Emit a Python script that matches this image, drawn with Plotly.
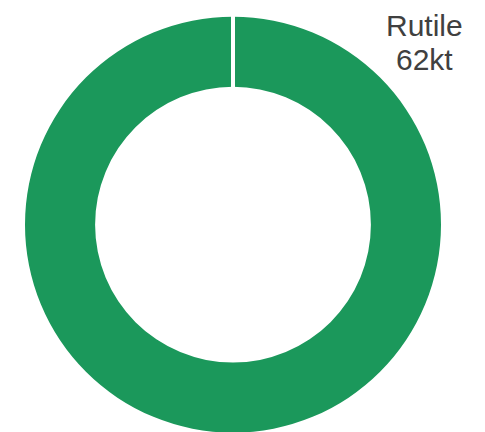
import plotly.graph_objects as go

# Data
categories = ["Rutile"]
values = [62]
unit = "kt"

W, H = 485, 432
OFF = 8  # page body margin in the browser
GREEN = "#1B985B"
TEXT = "#404040"

dom_x = [(25 - OFF) / W, (441 - OFF) / W]
dom_y = [(H - (432.7 - OFF)) / H, (H - (16.7 - OFF)) / H]
hole = 0.663

fig = go.Figure(
    go.Pie(
        labels=categories,
        values=values,
        hole=hole,
        sort=False,
        direction="clockwise",
        rotation=0,
        textinfo="none",
        hoverinfo="label+value",
        marker=dict(colors=[GREEN], line=dict(color="white", width=0)),
        domain=dict(x=dom_x, y=dom_y),
        showlegend=False,
    )
)

# white separator at the slice start (12 o'clock), derived from the pie domain
cx = (dom_x[0] + dom_x[1]) / 2
r_px = min((dom_x[1] - dom_x[0]) * W, (dom_y[1] - dom_y[0]) * H) / 2
cy_px = (dom_y[0] + dom_y[1]) / 2 * H
fig.add_shape(
    type="line", xref="paper", yref="paper",
    x0=cx, x1=cx,
    y0=(cy_px + r_px) / H + 0.005, y1=(cy_px + hole * r_px) / H - 0.003,
    line=dict(color="white", width=4), layer="above",
)

lx = (424 - OFF) / W
fig.add_annotation(
    x=lx, y=1.0, xref="paper", yref="paper",
    text=categories[0], showarrow=False, xanchor="center", yanchor="top",
    borderpad=0,
    font=dict(family="Liberation Sans, Arial", size=30, color=TEXT),
)
fig.add_annotation(
    x=lx, y=1 - (59 - OFF) / H, xref="paper", yref="paper",
    text=f"{values[0]}{unit}", showarrow=False, xanchor="center", yanchor="middle",
    borderpad=0,
    font=dict(family="Liberation Sans, Arial", size=30, color=TEXT),
)

fig.update_layout(
    width=W, height=H,
    margin=dict(l=0, r=0, t=0, b=0),
    paper_bgcolor="white", plot_bgcolor="white",
)

fig.write_html("out.html")
